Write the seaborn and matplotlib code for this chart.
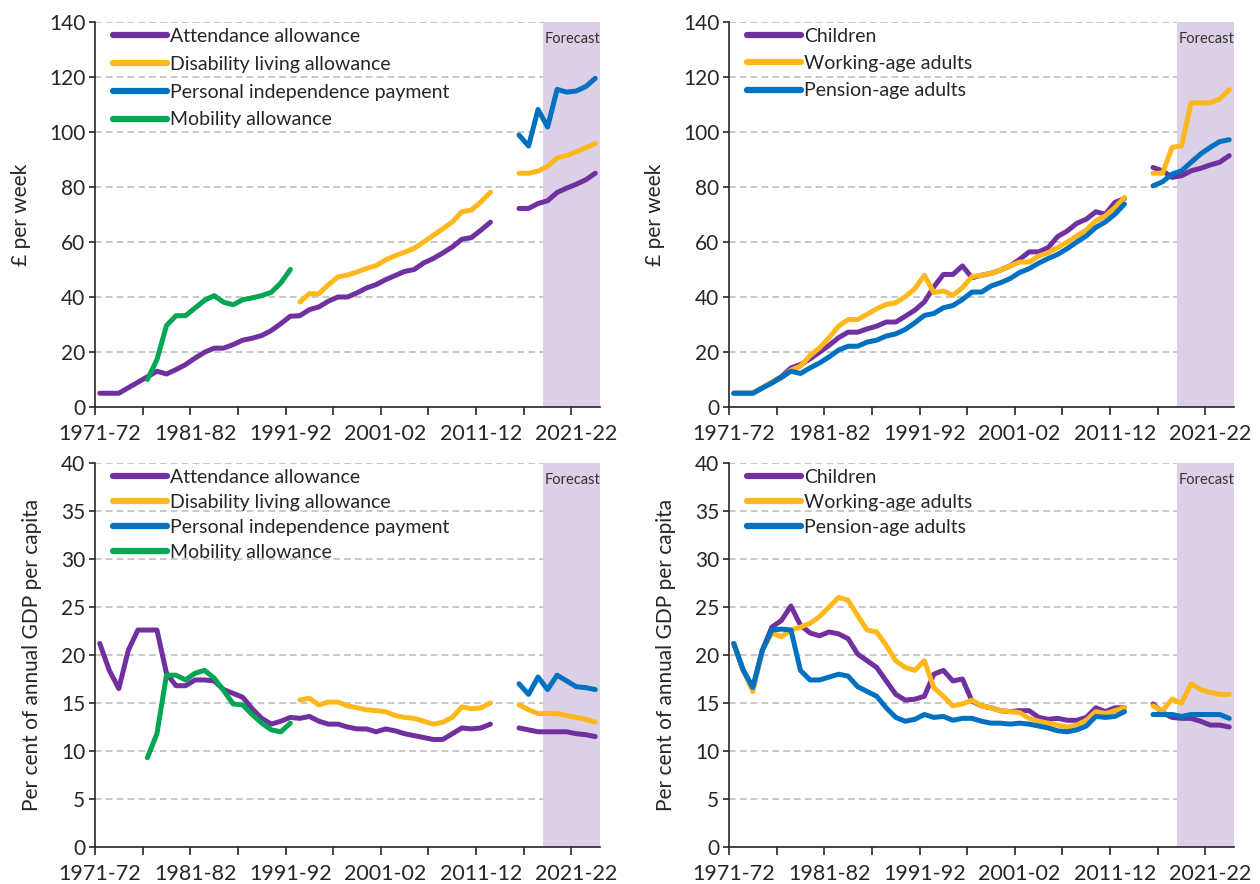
import numpy as np
import pandas as pd
import seaborn as sns
import matplotlib.pyplot as plt
from matplotlib.lines import Line2D

sns.set_theme(style='white')
plt.rcParams['font.family'] = ['Lato', 'DejaVu Sans']

# financial years 1971-72 .. 2023-24 (categories)
years = [f"{y}-{(y + 1) % 100:02d}" for y in range(1971, 2024)]
GAP = [None, None]          # 2013-14 and 2014-15 not shown
MOB_LEAD = [None] * 5       # mobility allowance starts 1976-77
DLA_LEAD = [None] * 21      # DLA starts 1992-93
PIP_LEAD = [None] * 44      # PIP starts 2015-16

# ---- £ per week, by benefit
aa_gbp = [5, 5, 5, 7, 9, 11, 13, 12, 13.6, 15.4, 17.8, 19.9, 21.4, 21.4, 22.7, 24.3, 25, 26, 27.8, 30.3,
          33, 33.2, 35.4, 36.4, 38.5, 40, 40, 41.5, 43.3, 44.5, 46.3, 47.8, 49.3, 50, 52.4, 54, 56, 58.2,
          61, 61.6, 64.3, 67.2] + GAP + [72.2, 72.2, 74, 75, 78, 79.6, 81, 82.6, 85]
dla_gbp = DLA_LEAD + [38.2, 41.2, 41.2, 44.5, 47.3, 48, 49.1, 50.4, 51.4, 53.5, 55, 56.3, 57.7, 60, 62.4,
                      64.8, 67.3, 71, 71.6, 74.6, 78.1] + GAP + [85, 85, 85.8, 87.5, 90.6, 91.4, 92.8, 94.3, 95.8]
pip_gbp = PIP_LEAD + [98.9, 94.9, 108.2, 101.8, 115.5, 114.5, 114.9, 116.5, 119.5]
mob_gbp = MOB_LEAD + [10, 17.2, 29.6, 33.2, 33.2, 36, 38.8, 40.5, 38.1, 37.2, 39, 39.7, 40.5, 41.7, 45.1, 50]

# ---- % of GDP per capita, by benefit
aa_pct = [21.2, 18.4, 16.5, 20.5, 22.6, 22.6, 22.6, 18.1, 16.8, 16.8, 17.4, 17.4, 17.3, 16.4, 16, 15.6,
          14.4, 13.4, 12.8, 13.1, 13.5, 13.4, 13.6, 13.1, 12.8, 12.8, 12.5, 12.3, 12.3, 12, 12.3, 12.1,
          11.8, 11.6, 11.4, 11.2, 11.2, 11.8, 12.4, 12.3, 12.4, 12.8] + GAP + [12.4, 12.2, 12, 12, 12, 12, 11.8, 11.7, 11.5]
dla_pct = DLA_LEAD + [15.3, 15.5, 14.8, 15.1, 15.1, 14.7, 14.5, 14.3, 14.2, 14.1, 13.7, 13.5, 13.4, 13.1,
                      12.8, 13, 13.5, 14.6, 14.4, 14.5, 15] + GAP + [14.8, 14.3, 13.9, 13.9, 13.9, 13.7, 13.5, 13.3, 13]
pip_pct = PIP_LEAD + [17, 15.9, 17.7, 16.4, 17.9, 17.3, 16.7, 16.6, 16.4]
mob_pct = MOB_LEAD + [9.3, 11.8, 17.9, 17.9, 17.4, 18.1, 18.4, 17.6, 16.3, 14.9, 14.8, 13.8, 12.9, 12.2, 12, 12.9]

# ---- £ per week, by age group
child_gbp = [5, 5, 5, 7, 9, 11, 14.2, 15.4, 17.5, 19.9, 22.4, 25.2, 27.2, 27.2, 28.4, 29.4, 30.9, 30.9, 33,
             35.2, 38.2, 43.7, 48.2, 48.2, 51.3, 47, 47.9, 48.6, 49.8, 51.3, 53.7, 56.4, 56.4, 58, 62, 64,
             66.8, 68.3, 71, 70.1, 74.4, 75.8] + GAP + [87.1, 85.9, 83.5, 84.1, 85.9, 86.8, 88, 89, 91.4]
work_gbp = [5, 5, 5, 7, 9, 10.5, 13.4, 14.8, 18.7, 21.5, 25.2, 29.4, 31.8, 31.8, 33.7, 35.7, 37.3, 37.9, 40.1,
            43, 47.9, 41.6, 42.2, 40.6, 43.4, 47.4, 47.9, 48.6, 49.8, 51.3, 52.7, 52.7, 54.9, 56.1, 58, 60,
            62.2, 64.4, 67.7, 69.5, 72.5, 76.2] + GAP + [85, 85, 94.4, 95, 110.6, 110.6, 110.6, 112, 115.4]
pens_gbp = [5, 5, 5, 6.9, 8.7, 10.8, 13, 12.2, 14.2, 16, 18.2, 20.7, 22.1, 22.1, 23.6, 24.3, 25.8, 26.6, 28.2,
            30.6, 33.3, 34, 36.1, 36.9, 39.1, 41.8, 41.8, 44, 45.2, 46.7, 48.9, 50.3, 52.3, 54, 55.5, 57.6,
            60, 62.2, 65.3, 67.3, 70.1, 73.8] + GAP + [80.4, 81.9, 84.7, 85.9, 89, 92, 94.4, 96.5, 97.2]

# ---- % of GDP per capita, by age group
child_pct = [21.2, 18.4, 16.6, 20.5, 22.9, 23.6, 25.1, 23.1, 22.3, 22, 22.4, 22.2, 21.7, 20.1, 19.4, 18.7,
             17.3, 15.9, 15.3, 15.4, 15.7, 18, 18.4, 17.3, 17.5, 15.2, 14.7, 14.5, 14.2, 14.1, 14.2, 14.2,
             13.5, 13.3, 13.4, 13.2, 13.2, 13.5, 14.5, 14.1, 14.5, 14.5] + GAP + [14.9, 14, 13.5, 13.4, 13.4, 13.1, 12.7, 12.7, 12.5]
work_pct = [21.2, 18.4, 16.2, 20.5, 22.3, 21.9, 22.6, 22.9, 23.3, 24, 25, 26, 25.7, 24.1, 22.6, 22.4, 21,
            19.4, 18.7, 18.4, 19.4, 16.6, 15.7, 14.7, 14.9, 15.3, 14.7, 14.5, 14.2, 14.1, 14, 13.4, 13.1,
            12.9, 12.7, 12.5, 12.7, 13.2, 14.1, 13.9, 14.2, 14.5] + GAP + [14.7, 14.2, 15.4, 15, 17, 16.4, 16.1, 15.9, 15.9]
pens_pct = [21.2, 18.4, 16.6, 20.5, 22.6, 22.7, 22.6, 18.4, 17.4, 17.4, 17.7, 18, 17.8, 16.7, 16.2, 15.7,
            14.5, 13.5, 13.1, 13.3, 13.8, 13.5, 13.6, 13.2, 13.4, 13.4, 13.1, 12.9, 12.9, 12.8, 12.9, 12.8,
            12.6, 12.4, 12.1, 12, 12.2, 12.6, 13.6, 13.5, 13.6, 14.1] + GAP + [13.8, 13.8, 13.8, 13.6, 13.8, 13.8, 13.8, 13.8, 13.4]

benefit_names = ['Attendance allowance', 'Disability living allowance',
                 'Personal independence payment', 'Mobility allowance']
age_names = ['Children', 'Working-age adults', 'Pension-age adults']
benefit_cols = ['#7030A0', '#FFB81C', '#0070C0', '#00A651']
age_cols = ['#7030A0', '#FFB81C', '#0070C0']

FORECAST_START = years.index('2018-19')
TEXT = '#262626'


def to_long(series, names):
    rows = []
    for name, vals in zip(names, series):
        gaps = 0
        for i, v in enumerate(vals):
            if v is None:
                gaps += 1
                continue
            rows.append({'x': i, 'value': v, 'series': name, 'seg': gaps})
    return pd.DataFrame(rows)


def panel(ax, series, names, cols, ymax, ystep, ylabel, ylabelpad, spacing):
    df = to_long(series, names)
    sns.lineplot(data=df, x='x', y='value', hue='series', units='seg', estimator=None,
                 hue_order=names, palette=dict(zip(names, cols)), lw=3.6, legend=False,
                 solid_capstyle='round', solid_joinstyle='round', ax=ax, zorder=3)
    ax.axvspan(FORECAST_START - 0.5, len(years) - 0.5, color='#DCD0E6', lw=0, zorder=1)
    ax.text(FORECAST_START - 0.3, ymax * 0.975, 'Forecast', ha='left', va='top',
            fontsize=10.5, color='#333333', zorder=4)

    ax.set_xlim(-0.5, len(years) - 0.5)
    ax.set_ylim(0, ymax)
    ax.set_yticks(np.arange(0, ymax + 1, ystep))
    ax.set_xticks(range(0, len(years), 10), [years[i] for i in range(0, len(years), 10)])
    ax.set_xticks(np.arange(-0.5, len(years) - 1, 5), minor=True)
    ax.tick_params(axis='x', which='major', length=0, labelsize=15.5, colors=TEXT, pad=12)
    ax.tick_params(axis='x', which='minor', length=6, width=1.2, color=TEXT, direction='out', bottom=True)
    ax.tick_params(axis='y', length=4, width=1.2, color=TEXT, labelsize=15, labelcolor=TEXT, left=True, pad=3)

    ax.yaxis.grid(True, ls=(0, (4, 2.5)), color='#BFBFBF', lw=1.2)
    ax.set_axisbelow(True)
    for s in ['top', 'right']:
        ax.spines[s].set_visible(False)
    for s in ['left', 'bottom']:
        ax.spines[s].set_color(TEXT)
        ax.spines[s].set_linewidth(1.2)

    ax.set_xlabel('')
    ax.set_ylabel(ylabel, fontsize=15, color=TEXT, labelpad=ylabelpad)

    handles = [Line2D([], [], color=c, lw=4.5, solid_capstyle='round') for c in cols]
    ax.legend(handles, names, loc='upper left', bbox_to_anchor=(0.035, 0.985), frameon=False,
              fontsize=14, handlelength=2.8, handletextpad=0.15, labelspacing=spacing,
              borderaxespad=0, borderpad=0, labelcolor=TEXT)


fig = plt.figure(figsize=(12.6, 8.84), dpi=100)
W, H = 1260, 884
ax_tl = fig.add_axes([95 / W, 1 - 407 / H, 505 / W, 385 / H])
ax_tr = fig.add_axes([729 / W, 1 - 407 / H, 505 / W, 385 / H])
ax_bl = fig.add_axes([95 / W, 1 - 847 / H, 505 / W, 384 / H])
ax_br = fig.add_axes([729 / W, 1 - 847 / H, 505 / W, 384 / H])

panel(ax_tl, [aa_gbp, dla_gbp, pip_gbp, mob_gbp], benefit_names, benefit_cols, 140, 20, '£ per week', 13, 0.56)
panel(ax_tr, [child_gbp, work_gbp, pens_gbp], age_names, age_cols, 140, 20, '£ per week', 13, 0.53)
panel(ax_bl, [aa_pct, dla_pct, pip_pct, mob_pct], benefit_names, benefit_cols, 40, 5,
      'Per cent of annual GDP per capita', 14, 0.42)
panel(ax_br, [child_pct, work_pct, pens_pct], age_names, age_cols, 40, 5,
      'Per cent of annual GDP per capita', 14, 0.42)

fig.savefig('out.png', dpi=100)
